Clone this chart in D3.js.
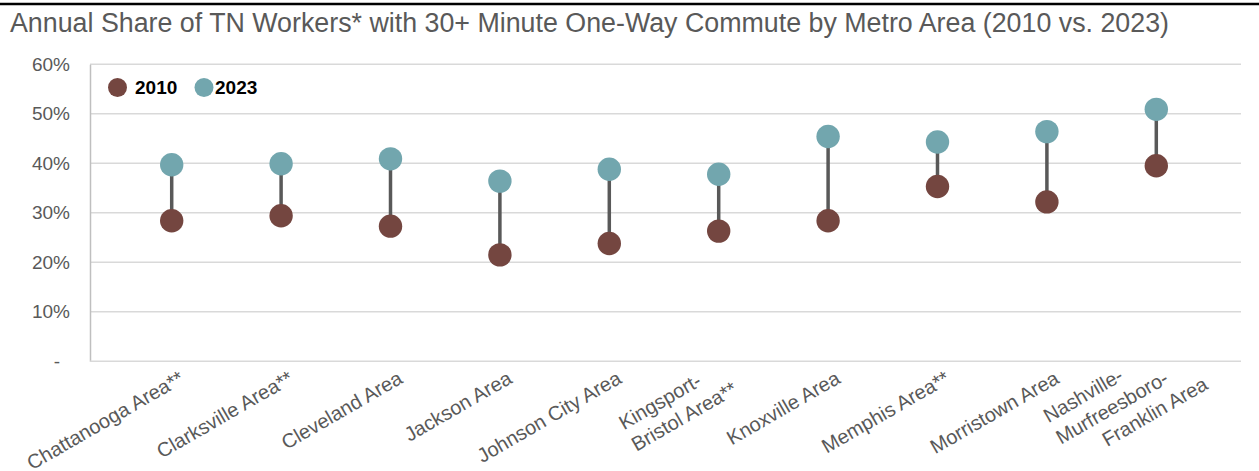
<!DOCTYPE html>
<html>
<head>
<meta charset="utf-8">
<script src="https://cdn.jsdelivr.net/npm/d3@7"></script>
<style>
  html, body { margin: 0; padding: 0; background: #fff; }
  svg { display: block; font-family: "Liberation Sans", Arial, sans-serif; }
</style>
</head>
<body>
<svg id="chart" width="1259" height="471"></svg>
<script>
// ---- data ----
const categories = [
  "Chattanooga Area**",
  "Clarksville Area**",
  "Cleveland Area",
  "Jackson Area",
  "Johnson City Area",
  "Kingsport-\nBristol Area**",
  "Knoxville Area",
  "Memphis Area**",
  "Morristown Area",
  "Nashville-\nMurfreesboro-\n       Franklin Area"
];
const values2010 = [0.284, 0.294, 0.273, 0.215, 0.238, 0.263, 0.284, 0.353, 0.322, 0.395];
const values2023 = [0.397, 0.399, 0.409, 0.364, 0.388, 0.378, 0.454, 0.443, 0.464, 0.509];
const yTicks = [0, 0.1, 0.2, 0.3, 0.4, 0.5, 0.6];
const seriesNames = ["2010", "2023"];
const title = "Annual Share of TN Workers* with 30+ Minute One-Way Commute by Metro Area (2010 vs. 2023)";

// ---- layout ----
const W = 1259, H = 471;
const plotL = 90, plotR = 1241, plotT = 64.3, plotB = 361.3;
const col2010 = "#744640", col2023 = "#72A6AE";
const textGray = "#595959";

const svg = d3.select("#chart");

// top rule
svg.append("line").attr("x1", 0).attr("x2", W).attr("y1", 4).attr("y2", 4)
  .attr("stroke", "#000").attr("stroke-width", 2.5);

// title
svg.append("text").attr("x", 10).attr("y", 32)
  .attr("fill", textGray).attr("font-size", 26.8)
  .text(title);

const x = d3.scaleBand().domain(categories).range([117, 1211]);
const y = d3.scaleLinear().domain([0, 0.6]).range([plotB, plotT]);

// gridlines
svg.append("g").selectAll("line").data(yTicks.filter(d => d > 0)).join("line")
  .attr("x1", plotL).attr("x2", plotR)
  .attr("y1", d => y(d)).attr("y2", d => y(d))
  .attr("stroke", "#d9d9d9").attr("stroke-width", 1.5);

// y axis
const yAxis = svg.append("g").attr("transform", `translate(${plotL},0)`)
  .call(d3.axisLeft(y).tickValues(yTicks).tickSize(0).tickPadding(20)
    .tickFormat(d => d === 0 ? "-" : d3.format(".0%")(d)));
yAxis.select(".domain").attr("stroke", "#bfbfbf").attr("stroke-width", 1.5);
yAxis.selectAll("text").attr("fill", textGray).attr("font-size", 19)
  .attr("font-family", "Liberation Sans, Arial, sans-serif")
  .attr("dx", d => d === 0 ? -10 : 0);

// x axis line
svg.append("line").attr("x1", plotL).attr("x2", plotR)
  .attr("y1", plotB).attr("y2", plotB)
  .attr("stroke", "#d9d9d9").attr("stroke-width", 1.5);

// x labels
const cx = d => x(d) + x.bandwidth() / 2;
const lineH = 25;
const labels = svg.append("g").selectAll("g").data(categories).join("g")
  .attr("transform", d => `translate(${cx(d) + 10},376) rotate(-30)`);
const measure = svg.append("text").attr("font-size", 20).attr("visibility", "hidden");
labels.each(function(d) {
  const g = d3.select(this);
  const lines = d.split("\n");
  const n = lines.length;
  let maxW = 0;
  lines.forEach(l => {
    measure.text(l.trim());
    maxW = Math.max(maxW, measure.node().getComputedTextLength());
  });
  g.selectAll("text").data(lines).join("text")
    .attr("fill", textGray).attr("font-size", 20)
    .style("white-space", "pre")
    .attr("x", -maxW).attr("text-anchor", "start")
    .attr("y", (l, i) => (i - (n - 1) / 2) * lineH)
    .attr("dy", "0.35em")
    .text(l => l);
});
measure.remove();

// connectors
const data = categories.map((c, i) => ({c, v0: values2010[i], v1: values2023[i]}));
svg.append("g").selectAll("line").data(data).join("line")
  .attr("x1", d => cx(d.c)).attr("x2", d => cx(d.c))
  .attr("y1", d => y(d.v0)).attr("y2", d => y(d.v1))
  .attr("stroke", "#595959").attr("stroke-width", 3.5);

// dots
const r = 11.7;
svg.append("g").selectAll("circle").data(data).join("circle")
  .attr("cx", d => cx(d.c)).attr("cy", d => y(d.v0)).attr("r", r).attr("fill", col2010);
svg.append("g").selectAll("circle").data(data).join("circle")
  .attr("cx", d => cx(d.c)).attr("cy", d => y(d.v1)).attr("r", r).attr("fill", col2023);

// legend
const legendX = [117.5, 204];
const legend = svg.append("g").selectAll("g").data(seriesNames).join("g")
  .attr("transform", (d, i) => `translate(${legendX[i]},87.5)`);
legend.append("circle").attr("r", 9.5).attr("fill", (d, i) => i === 0 ? col2010 : col2023);
legend.append("text").attr("x", (d, i) => i === 0 ? 17.5 : 11).attr("dy", "0.35em")
  .attr("font-size", 19).attr("font-weight", "bold").attr("fill", "#000")
  .text(d => d);
</script>
</body>
</html>
